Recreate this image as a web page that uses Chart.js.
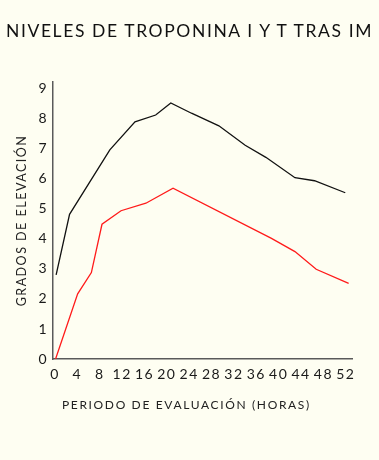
<!DOCTYPE html>
<html lang="es">
<head>
<meta charset="UTF-8">
<title>Niveles de troponina I y T tras IM</title>
<script src="https://cdn.jsdelivr.net/npm/chart.js"></script>
<style>
    html, body {
        margin: 0;
        padding: 0;
        background: #fefef2;
    }
    .wrap {
        position: relative;
        width: 379px;
        height: 460px;
        background: #fefef2;
        font-family: Lato, "Open Sans", sans-serif;
    }
    .wrap canvas {
        position: absolute;
        left: 0;
        top: 0;
    }
    .titulo {
        position: absolute;
        left: 0;
        width: 379px;
        top: 20px;
        text-align: center;
        font-size: 17.5px;
        letter-spacing: 1.6px;
        color: #111;
        white-space: nowrap;
    }
    .eje-x {
        position: absolute;
        left: 62px;
        top: 397px;
        font-size: 12px;
        letter-spacing: 1.65px;
        color: #222;
        white-space: nowrap;
    }
</style>
</head>
<body>
<div class="wrap">
    <canvas id="grafico" width="379" height="460"></canvas>
    <div class="titulo">NIVELES DE TROPONINA I Y T TRAS IM</div>
    <div class="eje-x">PERIODO DE EVALUACIÓN (HORAS)</div>
</div>

<script>
// datos (horas, grados de elevacion)
const horasTropI = [0.2, 2.6, 9.8, 14.3, 18.0, 20.7, 24.4, 29.3, 34.0, 37.7, 42.9, 46.4, 51.9];
const nivelTropI = [2.8, 4.82, 6.97, 7.9, 8.13, 8.53, 8.19, 7.77, 7.12, 6.72, 6.04, 5.94, 5.54];

const horasTropT = [0.1, 4.05, 6.5, 8.4, 11.8, 16.25, 21.1, 38.7, 42.9, 46.7, 52.5];
const nivelTropT = [0, 2.17, 2.88, 4.49, 4.94, 5.19, 5.69, 4.02, 3.58, 2.99, 2.52];

const ticksHoras = [0, 4, 8, 12, 16, 20, 24, 28, 32, 36, 40, 44, 48, 52];
const ticksGrados = [0, 1, 2, 3, 4, 5, 6, 7, 8, 9];

function puntos(xs, ys) {
    return xs.map((x, i) => ({ x: x, y: ys[i] }));
}

// espaciado de letras como en el original
const espaciado = {
    id: 'espaciado',
    beforeDraw(chart) { chart.ctx.letterSpacing = '1.5px'; },
    afterDraw(chart) { chart.ctx.letterSpacing = '0px'; }
};

const fuente = 'Lato, "Open Sans", sans-serif';

new Chart(document.getElementById('grafico'), {
    type: 'line',
    data: {
        datasets: [
            {
                label: 'Troponina I',
                data: puntos(horasTropI, nivelTropI),
                borderColor: '#111111',
                borderWidth: 1.3,
                pointRadius: 0,
                tension: 0
            },
            {
                label: 'Troponina T',
                data: puntos(horasTropT, nivelTropT),
                borderColor: '#ff1a1a',
                borderWidth: 1.3,
                pointRadius: 0,
                tension: 0
            }
        ]
    },
    options: {
        responsive: false,
        animation: false,
        layout: { padding: { top: 82, right: 27, left: 0, bottom: 0 } },
        plugins: {
            legend: { display: false },
            tooltip: { enabled: false }
        },
        scales: {
            x: {
                type: 'linear',
                min: -0.36,
                max: 53.1,
                afterBuildTicks: s => { s.ticks = ticksHoras.map(v => ({ value: v })); },
                afterFit: s => { s.height = 101; },
                grid: { display: false, drawTicks: false },
                border: { display: true, color: '#5a5a5a', width: 1.5 },
                ticks: {
                    autoSkip: false,
                    maxRotation: 0,
                    padding: 7,
                    color: '#1a1a1a',
                    font: { family: fuente, size: 14 }
                }
            },
            y: {
                min: 0,
                max: 9.23,
                afterBuildTicks: s => { s.ticks = ticksGrados.map(v => ({ value: v })); },
                afterFit: s => { s.width = 53; },
                grid: { display: false, drawTicks: false },
                border: { display: true, color: '#5a5a5a', width: 1.5 },
                ticks: {
                    padding: 5,
                    color: '#1a1a1a',
                    font: { family: fuente, size: 14 }
                },
                title: {
                    display: true,
                    text: 'GRADOS DE ELEVACIÓN',
                    color: '#222',
                    font: { family: fuente, size: 12.5 },
                    padding: { top: 14.5, bottom: 0 }
                }
            }
        }
    },
    plugins: [espaciado]
});
</script>
</body>
</html>
